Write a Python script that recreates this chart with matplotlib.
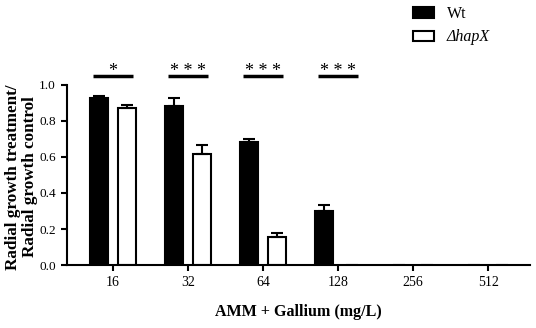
import matplotlib
matplotlib.use("Agg")
import matplotlib.pyplot as plt
import numpy as np
from matplotlib.patches import Patch

categories = ["16", "32", "64", "128", "256", "512"]
wt = [0.93, 0.883, 0.685, 0.30, 0.0, 0.0]
wt_err = [0.01, 0.043, 0.017, 0.033, np.nan, np.nan]
hapx = [0.87, 0.617, 0.157, 0.0, 0.0, 0.0]
hapx_err = [0.017, 0.05, 0.023, np.nan, np.nan, np.nan]
sig_labels = ["*", "***", "***", "***"]
yticks = [0.0, 0.2, 0.4, 0.6, 0.8, 1.0]

plt.rcParams['font.family'] = ['Liberation Serif', 'DejaVu Serif']

fig = plt.figure(figsize=(5.36, 3.28), dpi=100)
ax = fig.add_axes([0.125, 0.192, 0.864, 0.549])

x = np.arange(len(categories))
w = 0.24
off = 0.19
lw_wt = [1.5 if v > 0 else 0 for v in wt]
lw_hx = [1.5 if v > 0 else 0 for v in hapx]
ax.bar(x - off, wt, w, color='black', edgecolor='black', linewidth=lw_wt, zorder=2)
ax.bar(x + off, hapx, w, color='white', edgecolor='black', linewidth=lw_hx, zorder=2)
ax.errorbar(x - off, wt, yerr=[np.zeros(len(x)), wt_err], fmt='none', ecolor='black',
            elinewidth=1.5, capsize=4, capthick=1.5, zorder=3)
ax.errorbar(x + off, hapx, yerr=[np.zeros(len(x)), hapx_err], fmt='none', ecolor='black',
            elinewidth=1.5, capsize=4, capthick=1.5, zorder=3)

for i, s in enumerate(sig_labels):
    ax.plot([x[i] - 0.27, x[i] + 0.27], [1.05, 1.05], color='black', lw=2.5,
            clip_on=False, solid_capstyle='butt')
    ax.text(x[i], 1.052, " ".join(s), ha='center', va='baseline', fontsize=13,
            clip_on=False)

ax.set_xlim(-0.61, 5.56)
ax.set_ylim(0, 1.0)
ax.set_xticks(x)
ax.set_xticklabels(categories, fontsize=10)
ax.set_yticks(yticks)
ax.set_yticklabels([f"{t:.1f}" for t in yticks], fontsize=9.5)
for sp in ['top', 'right']:
    ax.spines[sp].set_visible(False)
for sp in ['left', 'bottom']:
    ax.spines[sp].set_linewidth(1.5)
ax.tick_params(width=1.5, length=4, direction='out', pad=4)

ax.set_ylabel("Radial growth treatment/\nRadial growth control", fontsize=12.3,
              fontweight='bold', linespacing=1.1, va='center')
ax.yaxis.set_label_coords(-0.099, 0.49)
ax.set_xlabel("AMM + Gallium (mg/L)", fontsize=11.5, fontweight='bold', labelpad=11)

handles = [Patch(facecolor='black', edgecolor='black', linewidth=1.5),
           Patch(facecolor='white', edgecolor='black', linewidth=1.5)]
leg = fig.legend(handles, ["Wt", "ΔhapX"], loc='upper left',
                 bbox_to_anchor=(0.744, 1.025), frameon=False, fontsize=11.5,
                 handlelength=1.3, handleheight=0.6, labelspacing=0.45, handletextpad=0.8)
leg.get_texts()[1].set_fontstyle('italic')

fig.savefig("out.png", dpi=100)
